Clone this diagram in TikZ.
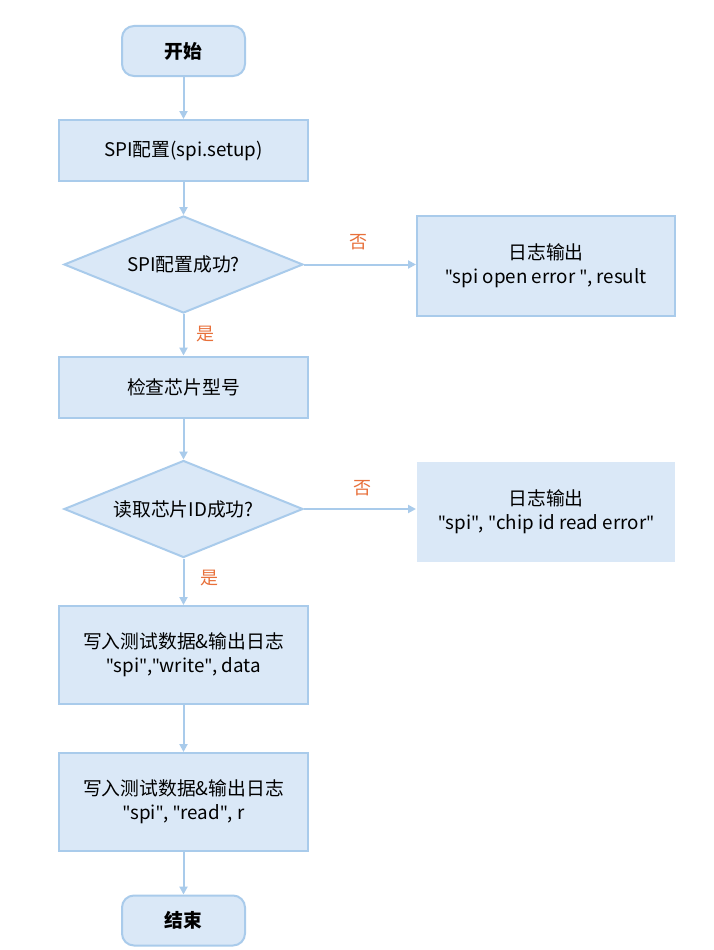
\documentclass[tikz,border=0pt]{standalone}
\usepackage{fontspec}
\setmainfont{Noto Sans CJK SC}[Ligatures=ResetAll]
\newfontfamily\qfont{Noto Sans}[Ligatures=ResetAll]
\usetikzlibrary{shapes.geometric,arrows.meta}
\definecolor{boxfill}{HTML}{DAE8F7}
\definecolor{boxline}{HTML}{A9CBEB}
\definecolor{lbl}{HTML}{E8703A}
\newcommand\dq{{\qfont\symbol{"22}}}
\tikzset{
  base/.style={fill=boxfill,draw=boxline,line width=2pt,align=center,font=\fontsize{18.8}{24}\selectfont,inner sep=0pt},
  term/.style={base,rounded corners=12pt,minimum width=123pt,minimum height=50pt,font=\fontsize{18.8}{24}\selectfont\bfseries},
  proc/.style={base,minimum width=249pt,minimum height=61pt},
  tall/.style={base,minimum width=249pt,minimum height=98pt},
  errbox/.style={base,minimum width=258pt,minimum height=100pt},
  dec/.style={base,diamond,aspect=2.46,minimum width=239pt,minimum height=97pt},
  conn/.style={draw=boxline,line width=2pt,-{Triangle[length=8pt,width=8pt]}},
  yn/.style={text=lbl,font=\fontsize{18}{18}\selectfont}
}
\begin{document}
\begin{tikzpicture}[x=1pt,y=-1pt]
\useasboundingbox (0,0) rectangle (714,950);
\fill[white] (0,0) rectangle (714,950);
\node[term] (start) at (183.5,51) {开始};
\node[proc] (setup) at (183.5,150.5) {SPI配置(spi.setup)};
\node[dec] (d1) at (183.5,264.5) {SPI配置成功?};
\node[errbox] (e1) at (546,266) {日志输出\\\dq spi open error \dq, result};
\node[proc] (chk) at (183.5,387) {检查芯片型号};
\node[dec] (d2) at (183.5,509) {读取芯片ID成功?};
\node[errbox,draw=none] (e2) at (546,511.5) {日志输出\\\dq spi\dq, \dq chip id read error\dq};
\node[tall] (wr) at (183.5,655) {写入测试数据\&输出日志\\\dq spi\dq,\dq write\dq, data};
\node[tall] (rd) at (183.5,802) {写入测试数据\&输出日志\\\dq spi\dq, \dq read\dq, r};
\node[term] (end) at (183.5,920.5) {结束};
\draw[conn] (start) -- (setup);
\draw[conn] (setup) -- (d1);
\draw[conn] (d1.east) -- (d1.east -| e1.west);
\draw[conn] (d1) -- (chk);
\draw[conn] (chk) -- (d2);
\draw[conn] (d2.east) -- (d2.east -| e2.west);
\draw[conn] (d2) -- (wr);
\draw[conn] (wr) -- (rd);
\draw[conn] (rd) -- (end);
\node[yn] (n1) at (358,242) {否};
\node[yn] (y1) at (205,334) {是};
\node[yn] (n2) at (362,488) {否};
\node[yn] (y2) at (209,578) {是};
\end{tikzpicture}
\end{document}
